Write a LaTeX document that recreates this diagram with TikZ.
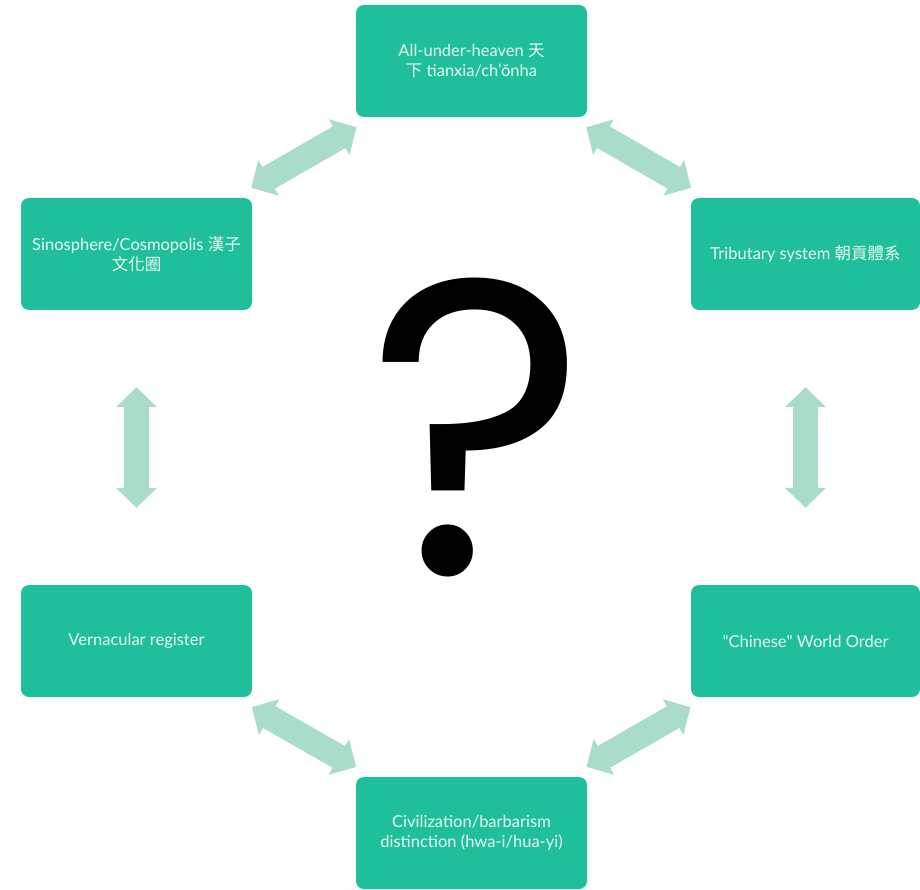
\documentclass[tikz,border=0pt]{standalone}
\usepackage{fontspec}
\setmainfont{Lato}
\newfontfamily\cjk{Noto Sans CJK TC}
\newfontfamily\qfont{Poppins}
\usepackage{tikz}
\usetikzlibrary{arrows.meta,positioning}
\definecolor{wogreen}{RGB}{32,191,155}
\definecolor{wolight}{RGB}{169,220,201}
\definecolor{wotext}{RGB}{232,248,242}
\tikzstyle{duo} = [line width=25pt, color=wolight, {Triangle[width=40pt,length=20pt]}-{Triangle[width=40pt,length=20pt]}]

\begin{document}
\begin{tikzpicture}[
    x=1pt, y=-1pt,
    every node/.style={font=\fontsize{16.5}{20}\selectfont},
    box/.style={rectangle, rounded corners=8pt, fill=wogreen, text=wotext, minimum width=231pt, minimum height=112pt, align=center, inner sep=0pt}
]
\useasboundingbox (0,0) rectangle (920,890);

% Central question mark
\node[inner sep=0pt, font=\qfont\fontsize{420}{420}\selectfont] (ask) at (478,427) {?};

% Top
\node[box] (tianxia) at (471.5,61) {All-under-heaven {\cjk 天}\\{\cjk 下} tianxia/ch’ŏnha};

% Left side
\node[box] (sino) at (136.5,254) {Sinosphere/Cosmopolis {\cjk 漢子}\\{\cjk 文化圈}};
\node[box] (vern) at (136.5,641) {Vernacular register};

% Right side
\node[box, minimum width=229pt] (tribute) at (805.5,254) {Tributary system {\cjk 朝貢體系}};
\node[box, minimum width=229pt] (order) at (805.5,641) {\textquotedbl Chinese\textquotedbl{} World Order};

% Bottom
\node[box] (huayi) at (471.5,833) {Civilization/barbarism\\distinction (hwa-i/hua-yi)};

% Arrows
\draw[duo, shorten <=20pt, shorten >=20pt] (tianxia) -- (sino);
\draw[duo, shorten <=20pt, shorten >=20pt] (tianxia) -- (tribute);
\draw[duo, shorten <=77pt, shorten >=77pt] (sino) -- (vern);
\draw[duo, shorten <=77pt, shorten >=77pt] (tribute) -- (order);
\draw[duo, shorten <=20pt, shorten >=20pt] (vern) -- (huayi);
\draw[duo, shorten <=20pt, shorten >=20pt] (order) -- (huayi);

\end{tikzpicture}
\end{document}
